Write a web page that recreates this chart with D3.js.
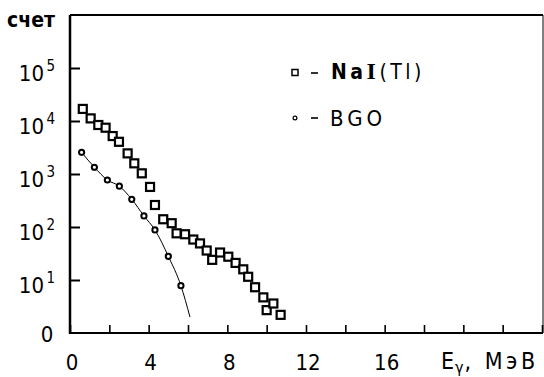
<!DOCTYPE html>
<html>
<head>
<meta charset="utf-8">
<script src="https://cdn.jsdelivr.net/npm/d3@7/dist/d3.min.js"></script>
<style>
  html, body { margin: 0; padding: 0; background: #fff; }
  svg { display: block; }
  text { font-family: "Liberation Sans Narrow", "DejaVu Sans Condensed", "Liberation Sans", sans-serif; fill: #000; }
</style>
</head>
<body>
<svg id="chart" width="544" height="377"></svg>
<script>
// ---- data ----
const naiE = [0.65, 1.05, 1.44, 1.81, 2.17, 2.49, 2.93, 3.27, 3.65, 4.07, 4.32, 4.74, 5.17, 5.42, 5.85, 6.27, 6.61, 6.95, 7.23, 7.63, 8.05, 8.42, 8.81, 9.06, 9.41, 9.83, 10.0, 10.34, 10.71];
const naiN = [16900, 11200, 8400, 7470, 5200, 4050, 2450, 1590, 1030, 570, 260, 140, 118, 76, 73, 58, 49, 36, 24, 33, 27.5, 21, 15.9, 11.5, 7.3, 4.7, 2.7, 3.6, 2.2];
const bgoE = [0.59, 1.24, 1.90, 2.51, 3.14, 3.76, 4.32, 5.00, 5.64];
const bgoN = [2560, 1340, 770, 590, 333, 162, 88, 28, 7.8];
// hand-drawn guide curve through the BGO points, ending near the axis
const bgoCurveE = [0.59, 1.24, 1.90, 2.51, 3.14, 3.76, 4.32, 5.00, 5.64, 6.10];
const bgoCurveN = [2560, 1340, 770, 590, 333, 162, 88, 28, 7.8, 2.0];

const xTickValues = [0, 2, 4, 6, 8, 10, 12, 14, 16, 18, 20, 22, 24];
const xTickLabels = [0, 4, 8, 12, 16];
const yTickValues = [1, 10, 100, 1000, 10000, 100000];
const yTickBase = ["0", "10", "10", "10", "10", "10"];
const yTickExp = ["", "1", "2", "3", "4", "5"];
const legendNames = ["NaI(Tl)", "BGO"];

// ---- layout ----
const svg = d3.select("#chart");
const x = d3.scaleLinear().domain([0, 24]).range([70, 542]);
const y = d3.scaleLog().domain([1, 1e6]).range([333, 15]);

// frame
const g = svg.append("g");
g.append("line").attr("x1", x(0)).attr("x2", x(0)).attr("y1", y(1e6)).attr("y2", y(1) + 1)
  .attr("stroke", "#000").attr("stroke-width", 2.5);
g.append("line").attr("x1", x(0)).attr("x2", 543).attr("y1", y(1e6)).attr("y2", y(1e6))
  .attr("stroke", "#000").attr("stroke-width", 2);
g.append("line").attr("x1", x(0)).attr("x2", 543).attr("y1", y(1)).attr("y2", y(1))
  .attr("stroke", "#000").attr("stroke-width", 2);
g.append("line").attr("x1", 543).attr("x2", 543).attr("y1", y(1e6)).attr("y2", y(1))
  .attr("stroke", "#000").attr("stroke-width", 1);

// x axis ticks (pointing up) via d3 axis
const xAxis = d3.axisTop(x).tickValues(xTickValues).tickSize(8).tickFormat("");
const xa = svg.append("g").attr("transform", `translate(0,${y(1)})`).call(xAxis);
xa.select(".domain").remove();
xa.selectAll(".tick line").attr("stroke", "#000").attr("stroke-width", 1.6)
  .attr("y1", 0).attr("y2", -8);

// x labels
svg.append("g").selectAll("text").data(xTickLabels).join("text")
  .attr("x", d => x(d) + 2).attr("y", 370)
  .attr("text-anchor", "middle").attr("font-size", 22)
  .text(d => d);

// y axis ticks (pointing right)
const yAxis = d3.axisRight(y).tickValues(yTickValues.slice(1)).tickSize(10).tickFormat("");
const ya = svg.append("g").attr("transform", `translate(${x(0)},0)`).call(yAxis);
ya.select(".domain").remove();
ya.selectAll(".tick line").attr("stroke", "#000").attr("stroke-width", 2);

// y labels
const yl = svg.append("g").selectAll("g").data(yTickValues).join("g")
  .attr("transform", d => `translate(0,${y(d)})`);
yl.append("text")
  .attr("x", (d, i) => i === 0 ? 47 : 44)
  .attr("y", (d, i) => i === 0 ? 9 : 13)
  .attr("text-anchor", (d, i) => i === 0 ? "middle" : "end")
  .attr("font-size", 22)
  .text((d, i) => yTickBase[i]);
yl.append("text")
  .attr("x", 46.5).attr("y", 3)
  .attr("font-size", 15)
  .text((d, i) => yTickExp[i]);

// y axis title
svg.append("text").attr("x", 7).attr("y", 27).attr("font-size", 21).attr("font-weight", "bold")
  .text("счет");

// x axis title
const xt = svg.append("text").attr("x", 441).attr("y", 369).attr("font-size", 23);
xt.append("tspan").text("E");
xt.append("tspan").attr("font-size", 16).attr("dy", 4).attr("dx", 1).text("γ");
xt.append("tspan").attr("dy", -4).attr("dx", 1).attr("letter-spacing", 3.5).text(", МэВ");

// BGO curve
const line = d3.line().x(d => x(d[0])).y(d => y(d[1])).curve(d3.curveMonotoneX);
svg.append("path").datum(bgoCurveE.map((e, i) => [e, bgoCurveN[i]]))
  .attr("d", line).attr("fill", "none").attr("stroke", "#000").attr("stroke-width", 1);

// NaI squares
svg.append("g").selectAll("rect").data(naiE.map((e, i) => [e, naiN[i]])).join("rect")
  .attr("x", d => x(d[0]) - 4).attr("y", d => y(d[1]) - 4)
  .attr("width", 8).attr("height", 8)
  .attr("fill", "#fff").attr("stroke", "#000").attr("stroke-width", 2.2);

// BGO circles
svg.append("g").selectAll("circle").data(bgoE.map((e, i) => [e, bgoN[i]])).join("circle")
  .attr("cx", d => x(d[0])).attr("cy", d => y(d[1])).attr("r", 2.6)
  .attr("fill", "#fff").attr("stroke", "#000").attr("stroke-width", 2);

// legend
const lg = svg.append("g");
lg.append("rect").attr("x", 292).attr("y", 69.5).attr("width", 6).attr("height", 6)
  .attr("fill", "#fff").attr("stroke", "#000").attr("stroke-width", 1.5);
lg.append("circle").attr("cx", 295).attr("cy", 118).attr("r", 1.9)
  .attr("fill", "#fff").attr("stroke", "#000").attr("stroke-width", 1.2);
[73, 118].forEach(yy => lg.append("line").attr("x1", 311).attr("x2", 318).attr("y1", yy).attr("y2", yy)
  .attr("stroke", "#000").attr("stroke-width", 1.6));
const t1 = lg.append("text").attr("x", 331).attr("y", 79).attr("font-size", 21).attr("letter-spacing", 3.5);
t1.append("tspan").attr("font-weight", "bold").text("Na");
t1.append("tspan").attr("font-family", "Liberation Serif, DejaVu Serif, serif").attr("font-weight", "bold")
  .attr("font-size", 24).text("I");
t1.append("tspan").text("(Tl)");
lg.append("text").attr("x", 330).attr("y", 126).attr("font-size", 22).attr("letter-spacing", 4)
  .text(legendNames[1]);
</script>
</body>
</html>
